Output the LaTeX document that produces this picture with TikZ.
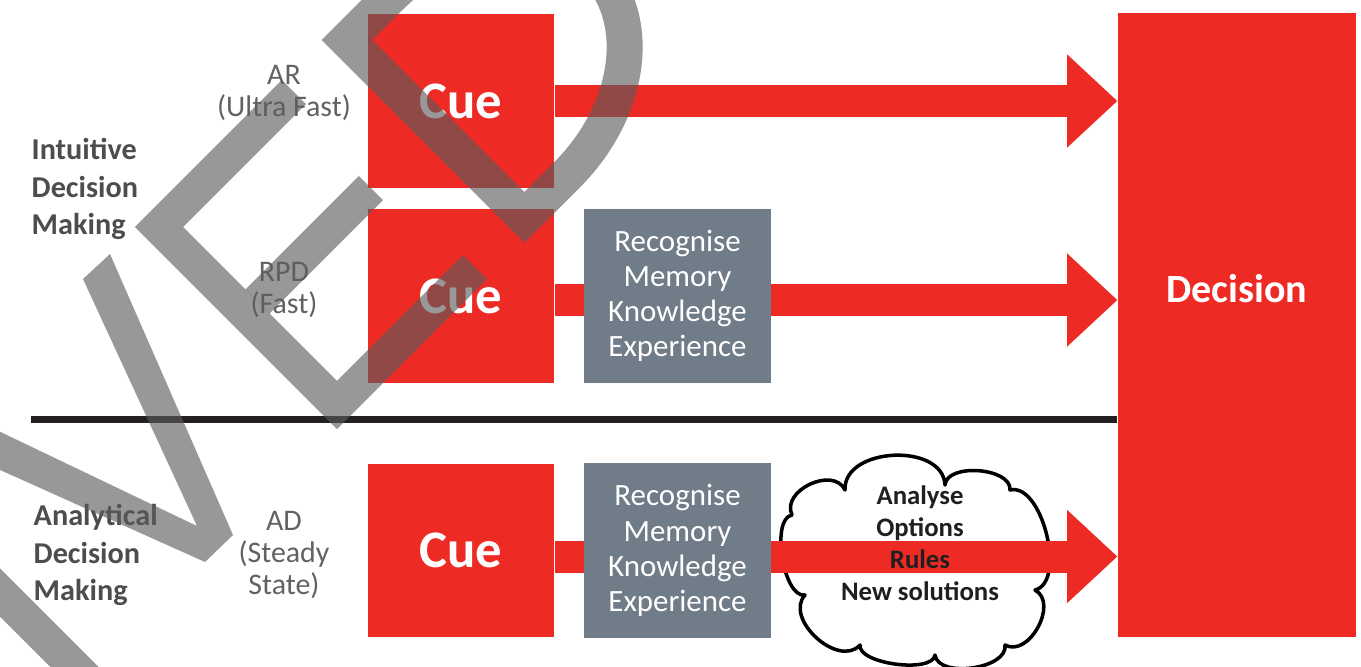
\documentclass[tikz,border=0pt]{standalone}
\usepackage{fontspec}
\setmainfont{Carlito}
\usetikzlibrary{arrows.meta,positioning}
\definecolor{cuered}{RGB}{238,42,36}
\definecolor{slate}{RGB}{113,124,137}
\definecolor{speedgray}{RGB}{98,98,100}
\definecolor{modegray}{RGB}{77,77,79}
\definecolor{rulecol}{RGB}{35,31,32}
\definecolor{wmgray}{RGB}{92,92,92}

\begin{document}
\begin{tikzpicture}[x=0.01cm, y=-0.01cm,
	cuebox/.style={fill=cuered, minimum width=1.86cm, minimum height=1.73cm, inner sep=0pt, text=white, font=\fontsize{15}{18}\selectfont\bfseries},
	recbox/.style={fill=slate, minimum width=1.86cm, minimum height=1.74cm, inner sep=0pt, text=white, align=center, font=\fontsize{8.8}{10}\selectfont},
	decbox/.style={fill=cuered, minimum width=2.38cm, minimum height=6.24cm, inner sep=0pt},
	speed/.style={text=speedgray, align=center, font=\fontsize{8.5}{9.1}\selectfont},
	mode/.style={text=modegray, align=left, anchor=west, inner sep=0pt, font=\fontsize{8.6}{10.7}\selectfont\bfseries},
	shaft/.style={cuered, line width=0.32cm},
	bigarrow/.style={shaft, -{Triangle[length=0.5cm, width=0.93cm, line width=0pt]}},
	wmline/.style={wmgray, draw opacity=0.63, line width=0.34cm, miter limit=4},
	wmfill/.style={fill=wmgray, fill opacity=0.63}]
	\useasboundingbox (0,0) rectangle (1361,666);
	% boxes
	\node[cuebox] (cue1) at (461,101) {Cue};
	\node[cuebox] (cue2) at (461,296) {Cue};
	\node[cuebox] (cue3) at (461,550.5) {Cue};
	\node[recbox, right=0.29cm of cue2] (rec2) {Recognise\\Memory\\Knowledge\\Experience};
	\node[recbox, right=0.29cm of cue3] (rec3) {Recognise\\Memory\\Knowledge\\Experience};
	\node[decbox, label={[text=white, font=\fontsize{11.4}{13}\selectfont\bfseries, yshift=0.36cm]center:Decision}] (dec) at (1237,325) {};
	% labels on the left
	\node[speed] (ar) at (284,93) {AR\\(Ultra Fast)};
	\node[speed] (rpd) at (284,290) {RPD\\(Fast)};
	\node[speed] (ad) at (284,554.5) {AD\\(Steady\\State)};
	\node[mode] (intuitive) at (31,189) {Intuitive\\Decision\\Making};
	\node[mode] (analytical) at (33,555) {Analytical\\Decision\\Making};
	% separator
	\coordinate (sepstart) at (31,419);
	\draw[rulecol, line width=0.07cm] (sepstart) -- (sepstart -| dec.west);
	% cloud
	\draw[fill=white, line width=1pt, line join=round]
		(792,515) .. controls (780.5,490.6) and (833.5,465.6) .. (845,490)
		.. controls (843,447) and (943,442) .. (945,485)
		.. controls (946.7,462.6) and (1011.7,467.6) .. (1010,490)
		.. controls (1042,482) and (1067,582) .. (1035,590)
		.. controls (1059,603) and (1029,658) .. (1005,645)
		.. controls (1008.4,668.8) and (938.4,678.8) .. (935,655)
		.. controls (932.5,673.8) and (857.5,663.8) .. (860,645)
		.. controls (838.5,668.7) and (783.5,618.7) .. (805,595)
		.. controls (783.3,598.5) and (770.3,518.5) .. (792,515) -- cycle;
	% arrows
	\draw[bigarrow] (cue1.east) -- (cue1.east -| dec.west);
	\draw[shaft] ([yshift=-0.04cm]cue2.east) -- ([yshift=-0.04cm]rec2.west);
	\draw[bigarrow] ([yshift=-0.04cm]rec2.east) -- ([yshift=-0.04cm]rec2.east -| dec.west);
	\draw[shaft] ([yshift=-0.06cm]cue3.east) -- ([yshift=-0.06cm]rec3.west);
	\draw[bigarrow] ([yshift=-0.06cm]rec3.east) -- ([yshift=-0.06cm]rec3.east -| dec.west);
	\node[align=center, text=black!88, font=\fontsize{7.6}{9.1}\selectfont\bfseries] (ideas) at (920,543) {Analyse\\Options\\Rules\\New solutions};
	% watermark letters
	\begin{scope}
		\clip (0,0) rectangle (1361,666);
		\fill[wmfill] (-60,443) -- (205,562) -- (233,535) -- (110,254) -- (83,279) -- (197,526) -- (-60,403) -- cycle;
		\draw[wmline] (-30,562.5) -- (120,712.5);
		\draw[wmline] (294,92) -- (159,227) -- (337,405) -- (475,267);
		\draw[wmline] (257.5,301.5) -- (371,188);
		\begin{scope}[shift={(347,40)}, x={(0.007071cm,-0.007071cm)}, y={(0.007071cm,0.007071cm)}]
			\draw[wmline, line width=0.36cm] (0,0) -- (251,0) -- (251,60) .. controls (251,151.1) and (194.8,225) .. (125.5,225)
				.. controls (56.2,225) and (0,151.1) .. (0,60) -- cycle;
		\end{scope}
	\end{scope}
\end{tikzpicture}
\end{document}
